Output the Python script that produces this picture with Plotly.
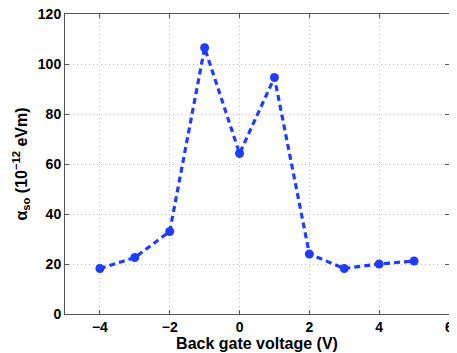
import plotly.graph_objects as go

# back gate voltage (V) and spin-orbit coefficient (1e-12 eVm)
voltage = [-4, -3, -2, -1, 0, 1, 2, 3, 4, 5]
alpha_so = [18.2, 22.6, 33.0, 106.5, 64.2, 94.6, 24.0, 18.2, 20.0, 21.2]

x_ticks = [-4, -2, 0, 2, 4, 6]
y_ticks = [0, 20, 40, 60, 80, 100, 120]

blue = "#1f3dff"

fig = go.Figure(go.Scatter(
    x=voltage, y=alpha_so,
    mode="lines+markers",
    line={"color": blue, "width": 3.2, "dash": "6px,4px"},
    marker={"color": blue, "size": 9},
    showlegend=False,
    cliponaxis=False,
))

axis_common = {
    "showline": True, "linecolor": "#555", "linewidth": 1, "mirror": "ticks",
    "ticks": "inside", "ticklen": 4, "tickcolor": "#555",
    "showgrid": True, "gridcolor": "#bbb", "griddash": "1px,3px", "gridwidth": 1,
    "zeroline": False, "automargin": False, "ticklabeloverflow": "allow",
    "tickfont": {"family": "Liberation Sans", "size": 14, "color": "black", "weight": "bold"},
}

fig.update_xaxes(
    range=[-5, 6.0001], tickvals=x_ticks, ticktext=["\u22124", "\u22122", "0", "2", "4", "6"],
    title={"text": "Back gate voltage (V)", "standoff": 0,
           "font": {"family": "Liberation Sans", "size": 16, "color": "black", "weight": "bold"}},
    **axis_common,
)
fig.update_yaxes(
    range=[0, 120], tickvals=y_ticks,
    title={"text": "\u03b1<sub>so</sub> (10<sup>\u221212</sup> eVm)", "standoff": 6,
           "font": {"family": "Liberation Sans", "size": 16, "color": "black", "weight": "bold"}},
    **axis_common,
)

# the page body adds an 8px margin, so the figure is offset by it
fig.update_layout(
    width=449, height=345,
    margin={"l": 57, "r": 8, "t": 6, "b": 39},
    plot_bgcolor="white", paper_bgcolor="white",
)

fig.write_html("out.html")
